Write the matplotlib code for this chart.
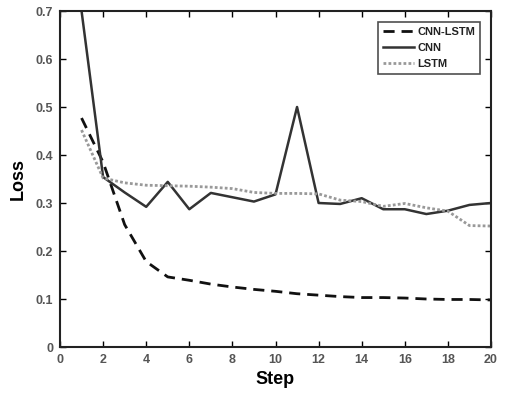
import matplotlib
matplotlib.use("Agg")
import matplotlib.pyplot as plt

steps = list(range(1, 21))
cnn_lstm = [0.477, 0.385, 0.255, 0.178, 0.146, 0.139, 0.131, 0.125, 0.120, 0.116,
            0.111, 0.108, 0.105, 0.103, 0.103, 0.102, 0.100, 0.099, 0.099, 0.098]
cnn = [0.700, 0.354, 0.322, 0.292, 0.344, 0.287, 0.321, 0.312, 0.303, 0.318,
       0.500, 0.300, 0.298, 0.310, 0.287, 0.287, 0.277, 0.284, 0.296, 0.300]
lstm = [0.452, 0.352, 0.342, 0.337, 0.336, 0.335, 0.333, 0.330, 0.322, 0.320,
        0.320, 0.319, 0.306, 0.303, 0.293, 0.299, 0.290, 0.283, 0.253, 0.252]

plt.rcParams['font.family'] = ['Liberation Sans', 'DejaVu Sans']

fig = plt.figure(figsize=(5.12, 3.96), dpi=100)
ax = fig.add_axes([60 / 512, 1 - 347 / 396, 431 / 512, 336 / 396])

ax.plot(steps, cnn_lstm, color='#111111', linestyle=(0, (4, 2.5)), linewidth=2, label='CNN-LSTM')
ax.plot(steps, cnn, color='#333333', linestyle='-', linewidth=1.8, label='CNN')
ax.plot(steps, lstm, color='#999999', linestyle=(0, (1, 0.8)), linewidth=2, label='LSTM')

ax.set_xlim(0, 20)
ax.set_ylim(0, 0.7)
ax.set_xticks(range(0, 21, 2))
ax.set_yticks([0, 0.1, 0.2, 0.3, 0.4, 0.5, 0.6, 0.7])
ax.set_yticklabels(['0', '0.1', '0.2', '0.3', '0.4', '0.5', '0.6', '0.7'])
ax.tick_params(direction='in', top=True, right=True, length=4, width=1,
               labelsize=9, labelcolor='#555555', pad=5)
for lbl in ax.get_xticklabels() + ax.get_yticklabels():
    lbl.set_fontweight('bold')
for s in ax.spines.values():
    s.set_linewidth(1.5)
    s.set_color('#222222')

ax.set_xlabel('Step', fontsize=13, fontweight='bold', labelpad=4)
ax.set_ylabel('Loss', fontsize=13, fontweight='bold', labelpad=6)

leg = ax.legend(loc='upper right', frameon=True, fancybox=False,
                handlelength=2.8, handletextpad=0.3, borderpad=0.45, labelspacing=0.55,
                borderaxespad=0, bbox_to_anchor=(0.975, 0.967),
                prop={'weight': 'bold', 'size': 8})
leg.get_frame().set_edgecolor('#222222')
leg.get_frame().set_linewidth(1.2)
for t in leg.get_texts():
    t.set_color('#222222')

fig.savefig('out.png', dpi=100)
